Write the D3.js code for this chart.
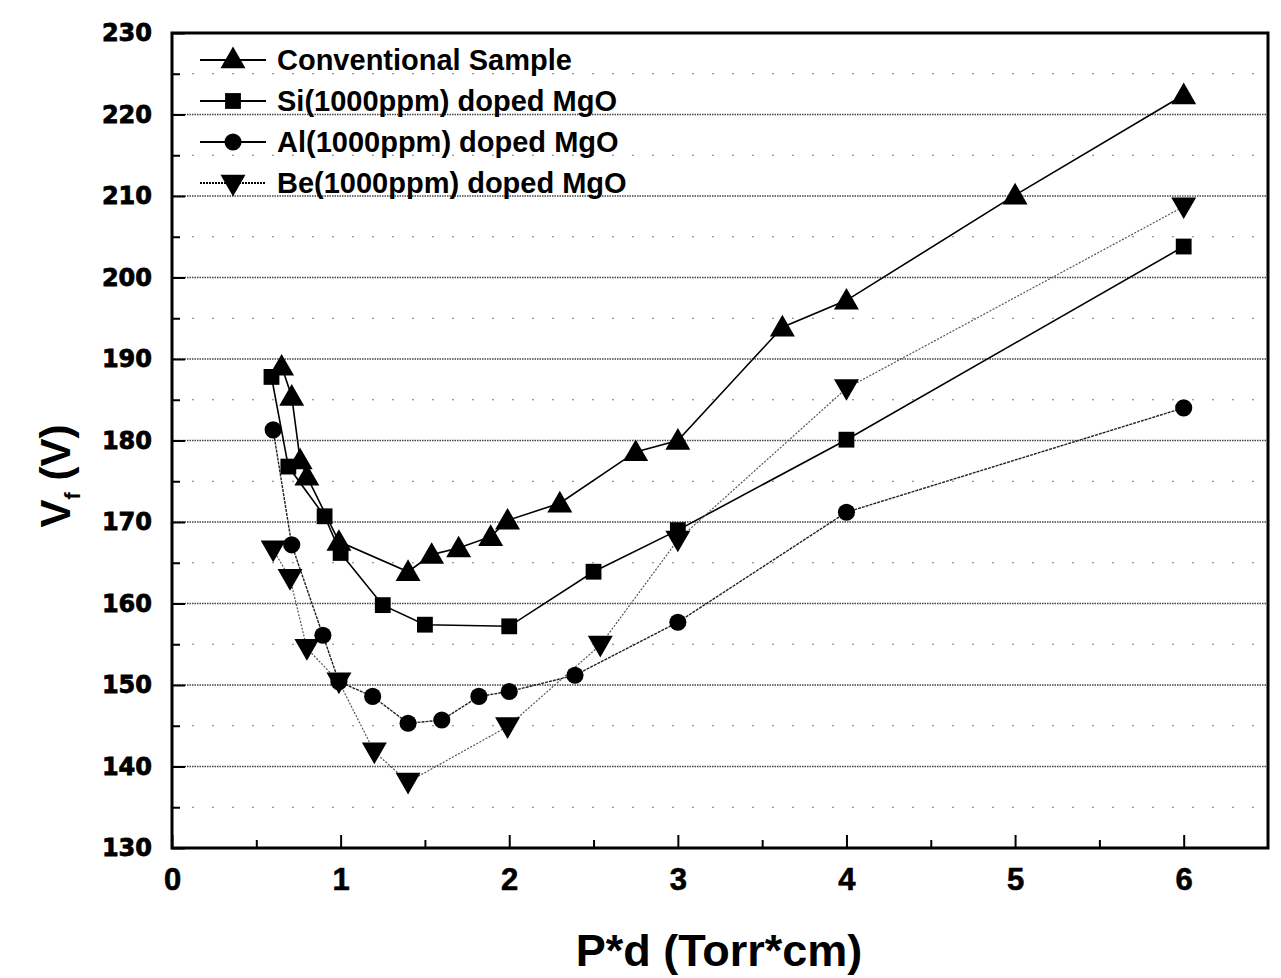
<!DOCTYPE html>
<html>
<head>
<meta charset="utf-8">
<script src="https://cdn.jsdelivr.net/npm/d3@7"></script>
<style>
	body { margin: 0; background: #fff; }
	svg { display: block; }
</style>
</head>
<body>
<svg id="chart" width="1281" height="978"></svg>
<script>
// values
var seriesNames = ["Conventional Sample", "Si(1000ppm) doped MgO", "Al(1000ppm) doped MgO", "Be(1000ppm) doped MgO"];

var convX = [0.65, 0.71, 0.76, 0.80, 0.99, 1.40, 1.54, 1.70, 1.89, 1.99, 2.30, 2.75, 3.0, 3.62, 4.0, 5.0, 6.0];
var convY = [189.1, 185.4, 177.6, 175.6, 167.6, 163.9, 166.0, 166.8, 168.2, 170.2, 172.3, 178.6, 180.0, 193.9, 197.2, 210.1, 222.4];

var siX = [0.59, 0.69, 0.905, 1.0, 1.25, 1.50, 2.0, 2.50, 3.0, 4.0, 6.0];
var siY = [187.8, 176.8, 170.7, 166.2, 159.8, 157.4, 157.2, 163.9, 169.0, 180.1, 203.8];

var alX = [0.60, 0.71, 0.895, 0.99, 1.19, 1.40, 1.60, 1.82, 2.0, 2.39, 3.0, 4.0, 6.0];
var alY = [181.3, 167.2, 156.1, 150.4, 148.6, 145.3, 145.7, 148.6, 149.2, 151.2, 157.7, 171.2, 184.0];

var beX = [0.60, 0.70, 0.80, 0.99, 1.20, 1.40, 1.99, 2.54, 3.0, 4.0, 6.0];
var beY = [166.6, 163.1, 154.5, 150.4, 141.8, 138.1, 144.9, 154.9, 167.8, 186.4, 208.7];

var xTicks = [0, 1, 2, 3, 4, 5, 6];
var yTicks = [130, 140, 150, 160, 170, 180, 190, 200, 210, 220, 230];

var svg = d3.select("#chart"),
	margin = {top: 33, right: 13, bottom: 130, left: 172},
	width = 1281 - margin.left - margin.right,
	height = 978 - margin.top - margin.bottom,
	g = svg.append("g").attr("transform", "translate(" + margin.left + "," + margin.top + ")");

var x = d3.scaleLinear().domain([0, 6.5]).range([0, width]);
var y = d3.scaleLinear().domain([130, 230]).range([height, 0]);

// grid: major every 10, sparse dots every 5
var minorY = d3.range(135, 230, 10);
g.append("g").selectAll("line.minor")
	.data(minorY).enter().append("line")
	.attr("x1", 0).attr("x2", width)
	.attr("y1", function(d) { return y(d); }).attr("y2", function(d) { return y(d); })
	.attr("stroke", "#777").attr("stroke-width", 1.2)
	.attr("stroke-dasharray", "2,18");

g.append("g").selectAll("line.major")
	.data(yTicks.slice(1, -1)).enter().append("line")
	.attr("x1", 0).attr("x2", width)
	.attr("y1", function(d) { return y(d); }).attr("y2", function(d) { return y(d); })
	.attr("stroke", "#444").attr("stroke-width", 1.3)
	.attr("stroke-dasharray", "1.5,1");

// axes with inward ticks
var xAxis = g.append("g")
	.attr("transform", "translate(0," + height + ")")
	.call(d3.axisBottom(x).tickValues(d3.range(0, 6.5, 0.5)).tickSize(-8).tickPadding(20)
		.tickFormat(function(d) { return xTicks.indexOf(d) >= 0 ? d : ""; }));
xAxis.selectAll(".tick line")
	.attr("y2", function(d) { return Number.isInteger(d) ? -13 : -8; })
	.attr("stroke-width", 2);
xAxis.selectAll("text")
	.attr("font-family", "'Liberation Sans Narrow', 'Liberation Sans', Arial, sans-serif")
	.attr("font-weight", "bold").attr("font-size", 31).attr("fill", "#000")
	.attr("stroke", "#000").attr("stroke-width", 0.6);

var yAxis = g.append("g")
	.call(d3.axisLeft(y).tickValues(d3.range(130, 231, 5)).tickSize(-8).tickPadding(20)
		.tickFormat(function(d) { return d % 10 === 0 ? d : ""; }));
yAxis.selectAll(".tick line")
	.attr("x2", function(d) { return d % 10 === 0 ? 13 : 8; })
	.attr("stroke-width", 2);
yAxis.selectAll("text")
	.attr("font-family", "'DejaVu Sans', sans-serif")
	.attr("font-weight", "bold").attr("font-size", 24).attr("fill", "#000")
	.attr("stroke", "#000").attr("stroke-width", 0.8);

svg.selectAll(".domain").remove();

// frame
g.append("rect")
	.attr("width", width).attr("height", height)
	.attr("fill", "none").attr("stroke", "#000").attr("stroke-width", 3);

// axis titles
svg.append("text")
	.attr("x", 719).attr("y", 966)
	.attr("text-anchor", "middle")
	.attr("font-family", "'Liberation Sans', Arial, sans-serif")
	.attr("font-weight", "bold").attr("font-size", 45)
	.text("P*d (Torr*cm)");

var yTitle = svg.append("text")
	.attr("transform", "translate(70,476) rotate(-90)")
	.attr("text-anchor", "middle")
	.attr("font-family", "'Liberation Sans', Arial, sans-serif")
	.attr("font-weight", "bold").attr("font-size", 42);
yTitle.append("tspan").text("V");
yTitle.append("tspan").attr("font-size", 22).attr("dy", 10).text("f");
yTitle.append("tspan").attr("dy", -10).text(" (V)");

// series
var symbols = [
	d3.symbol().type(d3.symbolTriangle).size(270),
	d3.symbol().type(d3.symbolSquare).size(250),
	d3.symbol().type(d3.symbolCircle).size(230),
	d3.symbol().type(d3.symbolTriangle).size(270)
];
var rotations = [0, 0, 0, 180];
var lineStyles = [
	{stroke: "#000", width: 1.6, dash: null},
	{stroke: "#000", width: 1.6, dash: null},
	{stroke: "#222", width: 1.4, dash: "3,1"},
	{stroke: "#555", width: 1.2, dash: "2,1.5"}
];

var allSeries = [
	d3.zip(convX, convY),
	d3.zip(siX, siY),
	d3.zip(alX, alY),
	d3.zip(beX, beY)
];

var line = d3.line()
	.x(function(d) { return x(d[0]); })
	.y(function(d) { return y(d[1]); });

allSeries.forEach(function(data, i) {
	g.append("path")
		.datum(data)
		.attr("fill", "none")
		.attr("stroke", lineStyles[i].stroke)
		.attr("stroke-width", lineStyles[i].width)
		.attr("stroke-dasharray", lineStyles[i].dash)
		.attr("d", line);
});

allSeries.forEach(function(data, i) {
	g.append("g").selectAll("path")
		.data(data).enter().append("path")
		.attr("d", symbols[i])
		.attr("fill", "#000")
		.attr("transform", function(d) {
			var dy = i === 0 ? 2 : (i === 3 ? -2 : 0);
			return "translate(" + x(d[0]) + "," + (y(d[1]) + dy) + ") rotate(" + rotations[i] + ")";
		});
});

// legend
var legend = svg.append("g").attr("transform", "translate(200,60)");
seriesNames.forEach(function(name, i) {
	var row = legend.append("g").attr("transform", "translate(0," + (i * 41) + ")");
	row.append("line")
		.attr("x1", 0).attr("x2", 66)
		.attr("stroke", "#000").attr("stroke-width", 2)
		.attr("stroke-dasharray", i === 3 ? "2,1" : null);
	row.append("path")
		.attr("d", symbols[i])
		.attr("transform", "translate(33," + (i === 0 ? 1 : (i === 3 ? -1 : 0)) + ") rotate(" + rotations[i] + ")")
		.attr("fill", "#000");
	row.append("text")
		.attr("x", 77).attr("y", 10)
		.attr("font-family", "'Liberation Sans', Arial, sans-serif")
		.attr("font-weight", "bold").attr("font-size", 29)
		.text(name);
});
</script>
</body>
</html>
